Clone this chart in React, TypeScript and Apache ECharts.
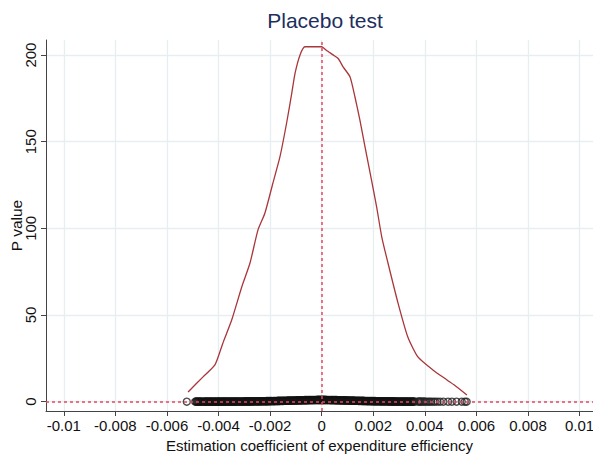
import React, { useEffect, useRef } from "react";
import * as echarts from "echarts";

const xTicks = [-0.01, -0.008, -0.006, -0.004, -0.002, 0, 0.002, 0.004, 0.006, 0.008, 0.01];
const yTicks = [0, 50, 100, 150, 200];

const kdeX = [-0.00518, -0.0046, -0.00414, -0.00383, -0.00349, -0.0031, -0.00278, -0.00247, -0.0022, -0.00189, -0.00162, -0.00136, -0.00116, -0.00103, -0.00084, -0.00065, 0, 0.00018, 0.00044, 0.00064, 0.00083, 0.0011, 0.00129, 0.00148, 0.00168, 0.00193, 0.00213, 0.00233, 0.00257, 0.00296, 0.00334, 0.00373, 0.00431, 0.00486, 0.00524, 0.00563];
const kdeY = [5.6, 14.3, 21.2, 33.9, 47.1, 66.2, 80.0, 99.1, 108.9, 126.2, 141.2, 160.8, 178.1, 189.7, 200.1, 204.8, 204.8, 202.8, 200.1, 198.0, 193.2, 187.4, 175.8, 162.6, 147.0, 128.0, 112.4, 95.0, 80.0, 56.9, 37.3, 25.8, 18.3, 12.5, 8.5, 3.9];

// dense block of placebo estimates (coefficient, p value)
const placeboCoef = [-0.0049, -0.00486, -0.00482, -0.00478, -0.00474, -0.0047, -0.00466, -0.0046, -0.00455, -0.00451, -0.00447, -0.00443, -0.0044, -0.00435, -0.00431, -0.00427, -0.00423, -0.00418, -0.00414, -0.0041, -0.00405, -0.00401, -0.00398, -0.00393, -0.00389, -0.00384, -0.0038, -0.00376, -0.00372, -0.00367, -0.00363, -0.00359, -0.00354, -0.0035, -0.00346, -0.00341, -0.00337, -0.00333, -0.00329, -0.00325, -0.0032, -0.00316, -0.00312, -0.00307, -0.00303, -0.00299, -0.00295, -0.0029, -0.00286, -0.00282, -0.00278, -0.00273, -0.00269, -0.00265, -0.00261, -0.00256, -0.00252, -0.00248, -0.00244, -0.0024, -0.00235, -0.00231, -0.00227, -0.00222, -0.00218, -0.00214, -0.0021, -0.00205, -0.00201, -0.00197, -0.00193, -0.00188, -0.00184, -0.0018, -0.00176, -0.00171, -0.00167, -0.00163, -0.00159, -0.00154, -0.0015, -0.00146, -0.00142, -0.00137, -0.00133, -0.00129, -0.00125, -0.0012, -0.00116, -0.00112, -0.00108, -0.00103, -0.00099, -0.00095, -0.00091, -0.00086, -0.00082, -0.00078, -0.00074, -0.00069, -0.00065, -0.00061, -0.00057, -0.00052, -0.00048, -0.00044, -0.0004, -0.00035, -0.00031, -0.00027, -0.00023, -0.00018, -0.00014, -0.0001, -0.00006, -0.00001, 0.00003, 0.00007, 0.00011, 0.00016, 0.0002, 0.00024, 0.00028, 0.00033, 0.00037, 0.00041, 0.00045, 0.0005, 0.00054, 0.00058, 0.00062, 0.00067, 0.00071, 0.00075, 0.00079, 0.00084, 0.00088, 0.00092, 0.00096, 0.00101, 0.00105, 0.00109, 0.00113, 0.00118, 0.00122, 0.00126, 0.0013, 0.00135, 0.00139, 0.00143, 0.00147, 0.00152, 0.00156, 0.0016, 0.00164, 0.00169, 0.00173, 0.00177, 0.00181, 0.00186, 0.0019, 0.00194, 0.00198, 0.00203, 0.00207, 0.00211, 0.00215, 0.0022, 0.00224, 0.00228, 0.00232, 0.00237, 0.00241, 0.00245, 0.00249, 0.00254, 0.00258, 0.00262, 0.00266, 0.00271, 0.00275, 0.00279, 0.00283, 0.00288, 0.00292, 0.00296, 0.003, 0.00305, 0.00309, 0.00313, 0.00317, 0.00322, 0.00326, 0.0033, 0.00334, 0.00339, 0.00343, 0.00347, 0.00351, 0.00356, 0.0036, 0.00364, 0.00368];
const placeboP = [0, 0.01, 0, 0.01, 0, 0.01, 0.01, 0, 0.01, 0.01, 0.01, 0.02, 0.02, 0.01, 0.02, 0.02, 0.02, 0.03, 0.02, 0.03, 0.03, 0.02, 0.03, 0.04, 0.03, 0.04, 0.04, 0.03, 0.04, 0.05, 0.05, 0.04, 0.05, 0.06, 0.05, 0.06, 0.06, 0.07, 0.07, 0.07, 0.08, 0.08, 0.08, 0.09, 0.09, 0.1, 0.1, 0.11, 0.11, 0.12, 0.12, 0.13, 0.14, 0.14, 0.15, 0.16, 0.16, 0.17, 0.18, 0.19, 0.2, 0.21, 0.22, 0.23, 0.24, 0.26, 0.27, 0.28, 0.29, 0.31, 0.32, 0.34, 0.35, 0.37, 0.38, 0.4, 0.41, 0.43, 0.44, 0.46, 0.48, 0.5, 0.51, 0.53, 0.55, 0.57, 0.58, 0.6, 0.62, 0.64, 0.66, 0.67, 0.69, 0.71, 0.73, 0.74, 0.76, 0.78, 0.8, 0.81, 0.83, 0.84, 0.86, 0.87, 0.89, 0.9, 0.92, 0.93, 0.94, 0.95, 0.96, 0.97, 0.98, 0.98, 0.99, 1.0, 1.0, 0.99, 0.98, 0.97, 0.96, 0.95, 0.94, 0.93, 0.91, 0.9, 0.88, 0.87, 0.85, 0.84, 0.82, 0.8, 0.78, 0.77, 0.75, 0.73, 0.71, 0.7, 0.68, 0.66, 0.64, 0.62, 0.6, 0.58, 0.57, 0.55, 0.53, 0.51, 0.5, 0.48, 0.46, 0.45, 0.43, 0.41, 0.4, 0.38, 0.37, 0.35, 0.34, 0.32, 0.31, 0.29, 0.28, 0.27, 0.25, 0.24, 0.23, 0.22, 0.21, 0.2, 0.19, 0.18, 0.17, 0.16, 0.15, 0.14, 0.14, 0.13, 0.12, 0.12, 0.11, 0.1, 0.1, 0.09, 0.09, 0.08, 0.08, 0.07, 0.07, 0.06, 0.06, 0.06, 0.05, 0.05, 0.05, 0.04, 0.04, 0.04, 0.03, 0.03, 0.03];

// isolated placebo estimates in the tails
const tailCoef = [-0.00523, 0.00373, 0.00378, 0.00383, 0.00388, 0.00394, 0.004, 0.00406, 0.00413, 0.00419, 0.00425, 0.00433, 0.0044, 0.00449, 0.00459, 0.00472, 0.0049, 0.00505, 0.00523, 0.00543, 0.00555, 0.00562];
const tailP = [0, 0.02, 0.02, 0.02, 0.02, 0.02, 0.02, 0.01, 0.01, 0.01, 0.01, 0.01, 0.01, 0.01, 0, 0, 0, 0, 0, 0, 0, 0];

const FONT = "'Liberation Sans', Arial, sans-serif";

export default function App() {
  const ref = useRef<HTMLDivElement>(null);
  useEffect(() => {
    document.body.style.margin = "0";
    if (!ref.current) return;
    const chart = echarts.init(ref.current, null, { renderer: "svg" });
    const denseData = placeboCoef.map((c, i) => [c, placeboP[i]]);
    const tailData = tailCoef.map((c, i) => [c, tailP[i]]);
    const kdeData = kdeX.map((c, i) => [c, kdeY[i]]);
    chart.setOption({
      animation: false,
      backgroundColor: "#ffffff",
      title: {
        text: "Placebo test",
        left: 320,
        textAlign: "center",
        top: 5,
        textStyle: { fontFamily: FONT, fontSize: 21, fontWeight: "normal", color: "#1c2f5e" },
      },
      grid: { left: 46, right: 0, top: 40, bottom: 45, containLabel: false, outerBoundsMode: "none" },
      xAxis: {
        type: "value",
        min: -0.01069,
        max: 0.01052,
        name: "Estimation coefficient of expenditure efficiency",
        nameLocation: "middle",
        nameGap: 27,
        nameTextStyle: { fontFamily: FONT, fontSize: 15, color: "#111" },
        axisLine: { show: true, onZero: false, lineStyle: { color: "#444", width: 1 } },
        axisTick: { show: true, length: 5, lineStyle: { color: "#444" }, customValues: xTicks },
        axisLabel: {
          customValues: xTicks,
          fontFamily: FONT,
          fontSize: 15,
          color: "#111",
          margin: 7,
          hideOverlap: false,
          formatter: (v: number) => String(parseFloat(v.toFixed(4))),
        },
        splitLine: { show: true, lineStyle: { color: "#e6eef2", width: 1.3 } },
      },
      yAxis: {
        type: "value",
        min: -5.4,
        max: 208.7,
        name: "P value",
        nameLocation: "middle",
        nameGap: 22,
        nameMoveOverlap: false,
        nameRotate: 90,
        nameTextStyle: { fontFamily: FONT, fontSize: 15.5, color: "#111" },
        axisLine: { show: true, onZero: false, lineStyle: { color: "#444", width: 1 } },
        axisTick: { show: true, length: 5, lineStyle: { color: "#444" }, customValues: yTicks },
        axisLabel: {
          customValues: yTicks,
          rotate: 90,
          fontFamily: FONT,
          fontSize: 15,
          color: "#111",
          margin: 8,
        },
        splitLine: { show: true, lineStyle: { color: "#e6eef2", width: 1.3 } },
      },
      series: [
        {
          type: "scatter",
          data: denseData,
          symbol: "circle",
          symbolSize: 7,
          itemStyle: { color: "rgba(0,0,0,0)", borderColor: "#111", borderWidth: 1.6 },
          z: 3,
        },
        {
          type: "scatter",
          data: tailData,
          symbol: "circle",
          symbolSize: 7,
          itemStyle: { color: "rgba(0,0,0,0)", borderColor: "#222", borderWidth: 1.4 },
          z: 3,
        },
        {
          type: "line",
          data: kdeData,
          showSymbol: false,
          symbol: "none",
          smooth: 0.2,
          lineStyle: { color: "#a8363a", width: 1.3 },
          z: 4,
          markLine: {
            silent: true,
            symbol: "none",
            label: { show: false },
            lineStyle: { color: "#e8475f", type: [3, 3], width: 1.5 },
            data: [{ xAxis: 0 }, { yAxis: 0 }],
          },
        },
      ],
    });
    return () => chart.dispose();
  }, []);
  return <div ref={ref} style={{ width: 593, height: 456 }} />;
}
